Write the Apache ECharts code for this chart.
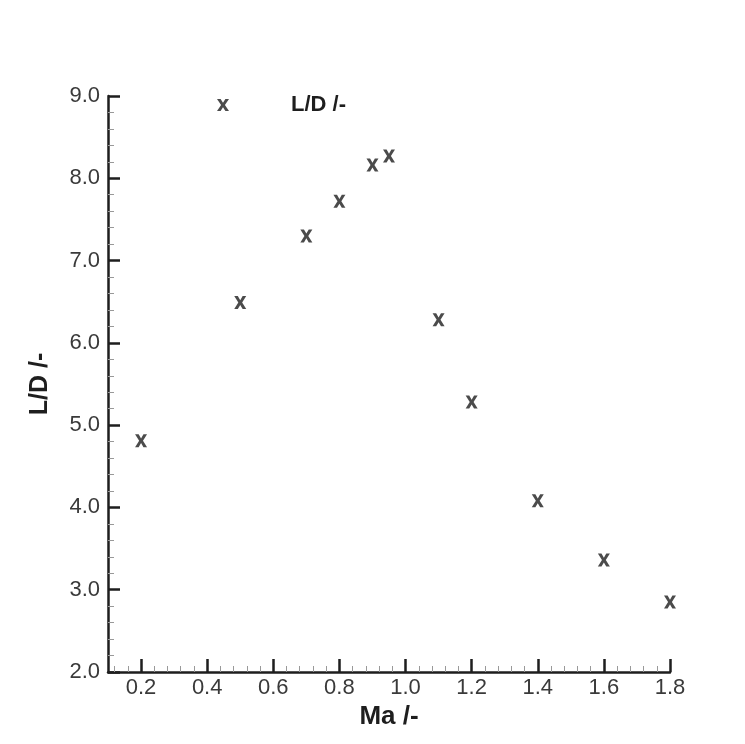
<!DOCTYPE html>
<html>
<head>
<meta charset="utf-8">
<script src="https://cdn.jsdelivr.net/npm/echarts@6/dist/echarts.min.js"></script>
<style>
html,body{margin:0;padding:0;background:#fff;}
#chart{width:745px;height:744px;}
</style>
</head>
<body>
<div id="chart"></div>
<script>
const machNumbers = [0.2, 0.5, 0.7, 0.8, 0.9, 0.95, 1.1, 1.2, 1.4, 1.6, 1.8];
const liftToDrag = [4.81, 6.49, 7.30, 7.72, 8.16, 8.27, 6.28, 5.28, 4.08, 3.36, 2.85];
const xMajorTicks = [0.2, 0.4, 0.6, 0.8, 1.0, 1.2, 1.4, 1.6, 1.8];
const yMajorTicks = [2, 3, 4, 5, 6, 7, 8, 9];
const seriesName = 'L/D /-';
const xAxisTitle = 'Ma /-';
const yAxisTitle = 'L/D /-';

const xMinorTicks = [];
for (let k = 3; k <= 45; k++) {
  if (k % 5 !== 0) xMinorTicks.push(+(k * 0.04).toFixed(2));
}

const crossPath = 'path://M0,0L3,0L5,3.2L7,0L10,0L6.6,5L10,10L7,10L5,6.8L3,10L0,10L3.4,5Z';
const ink = '#1e1e1e';
const font = 'Liberation Sans, Arial, sans-serif';

const chart = echarts.init(document.getElementById('chart'));
chart.setOption({
  backgroundColor: '#fff',
  animation: false,
  legend: {
    left: 217,
    top: 94,
    padding: 0,
    itemWidth: 12,
    itemHeight: 13,
    icon: crossPath,
    textStyle: {
      fontFamily: font,
      fontWeight: 'bold',
      fontSize: 22,
      color: ink,
      padding: [0, 0, 0, 57]
    },
    data: [seriesName]
  },
  grid: { left: 108, right: 75, top: 96, bottom: 72, containLabel: false },
  xAxis: [{
    type: 'value',
    min: 0.1,
    max: 1.8,
    name: xAxisTitle,
    nameLocation: 'middle',
    nameGap: 21,
    nameTextStyle: { fontFamily: font, fontWeight: 'bold', fontSize: 26, color: ink },
    axisLine: { show: true, lineStyle: { color: ink, width: 2.5 } },
    axisTick: { show: true, inside: true, length: 13, lineStyle: { color: ink, width: 2.5 }, customValues: xMajorTicks },
    axisLabel: { show: true, margin: 5, fontFamily: font, fontSize: 22, color: '#3a3a3a',
      customValues: xMajorTicks, formatter: v => v.toFixed(1) },
    splitLine: { show: false }
  }, {
    type: 'value',
    min: 0.1,
    max: 1.8,
    position: 'bottom',
    axisLine: { show: false },
    axisTick: { show: true, inside: true, length: 6, lineStyle: { color: '#999', width: 1 }, customValues: xMinorTicks },
    axisLabel: { show: false },
    splitLine: { show: false }
  }],
  yAxis: {
    type: 'value',
    min: 2,
    max: 9,
    interval: 1,
    name: yAxisTitle,
    nameLocation: 'middle',
    nameGap: 55,
    nameRotate: 90,
    nameTextStyle: { fontFamily: font, fontWeight: 'bold', fontSize: 25, color: ink },
    axisLine: { show: true, lineStyle: { color: ink, width: 2.5 } },
    axisTick: { show: true, inside: true, length: 12, lineStyle: { color: ink, width: 2.5 } },
    minorTick: { show: true, splitNumber: 5, length: 6, lineStyle: { color: '#999', width: 1 } },
    axisLabel: { margin: 8, fontFamily: font, fontSize: 22, color: '#3a3a3a',
      formatter: v => v.toFixed(1) },
    splitLine: { show: false },
    minorSplitLine: { show: false }
  },
  series: [{
    name: seriesName,
    type: 'scatter',
    xAxisIndex: 0,
    symbol: crossPath,
    symbolSize: [12, 13],
    itemStyle: { color: ink },
    data: machNumbers.map((m, i) => [m, liftToDrag[i]])
  }]
});
</script>
</body>
</html>
